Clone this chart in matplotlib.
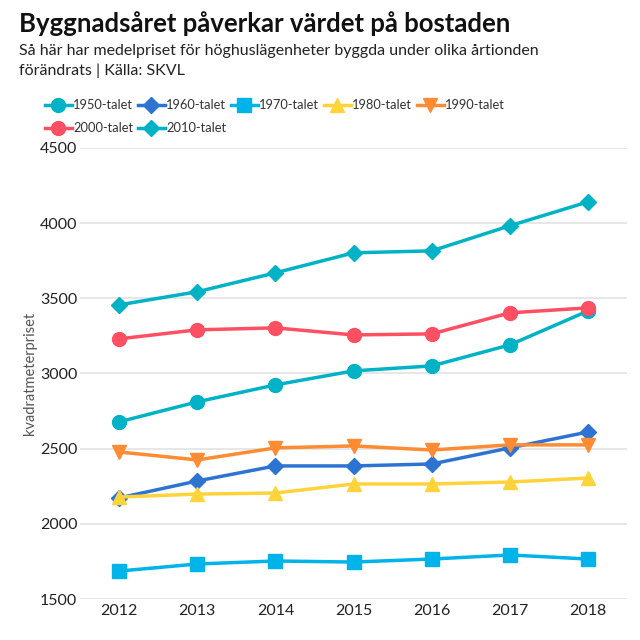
import matplotlib.pyplot as plt

years = [2012, 2013, 2014, 2015, 2016, 2017, 2018]

series_names = ['1950-talet', '1960-talet', '1970-talet', '1980-talet',
                '1990-talet', '2000-talet', '2010-talet']
v1950 = [2678, 2811, 2924, 3017, 3050, 3190, 3416]
v1960 = [2172, 2285, 2385, 2385, 2398, 2505, 2611]
v1970 = [1686, 1733, 1753, 1746, 1766, 1793, 1766]
v1980 = [2178, 2198, 2205, 2265, 2265, 2278, 2305]
v1990 = [2478, 2425, 2505, 2518, 2491, 2525, 2525]
v2000 = [3230, 3290, 3303, 3256, 3263, 3403, 3436]
v2010 = [3456, 3543, 3669, 3802, 3815, 3982, 4141]

colors = ['#00B2C6', '#2D74D2', '#00B3E9', '#FFD43B',
          '#FF8B33', '#FF4F62', '#00B2C6']
markers = ['o', 'D', 's', '^', 'v', 'o', 'D']

plt.rcParams['font.family'] = ['Lato', 'DejaVu Sans']

fig = plt.figure(figsize=(6.4, 6.4), dpi=100)
ax = fig.add_axes([0.125, 0.064, 0.855, 0.705])

all_vals = [v1950, v1960, v1970, v1980, v1990, v2000, v2010]
handles = []
for name, vals, c, m in zip(series_names, all_vals, colors, markers):
    ms = 10 if m in ('o', 's', '^', 'v') else 8
    h, = ax.plot(years, vals, color=c, marker=m, markersize=ms,
                 linewidth=2.5, label=name, clip_on=False)
    handles.append(h)

ax.set_xlim(2011.5, 2018.5)
ax.set_ylim(1500, 4500)
ax.set_yticks([1500, 2000, 2500, 3000, 3500, 4000, 4500])
ax.set_xticks(years)
ax.grid(axis='y', color='#e3e3e3', linewidth=1.2)
ax.set_axisbelow(True)
for s in ax.spines.values():
    s.set_visible(False)
ax.tick_params(length=0, labelsize=11.5, colors='#222222')
ax.tick_params(axis='y', pad=2)
ax.set_ylabel('kvadratmeterpriset', fontsize=10.5, color='#555555', labelpad=2)

fig.text(0.03, 0.963, 'Byggnadsåret påverkar värdet på bostaden',
         fontsize=18.5, fontweight='bold', va='center', color='#111111')
fig.text(0.03, 0.921, 'Så här har medelpriset för höghuslägenheter byggda under olika årtionden',
         fontsize=11.5, va='center', color='#222222')
fig.text(0.03, 0.889, 'förändrats | Källa: SKVL',
         fontsize=11.5, va='center', color='#222222')

# legend fills column by column, so order handles to read row by row
order = [0, 5, 1, 6, 2, 3, 4]
leg = fig.legend(handles=[handles[i] for i in order], loc='upper left',
                 bbox_to_anchor=(0.07, 0.845), ncol=5, frameon=False,
                 fontsize=9.3, handlelength=2.1, handletextpad=0.1,
                 columnspacing=0.35, labelspacing=0.85, borderaxespad=0,
                 borderpad=0)
for t in leg.get_texts():
    t.set_color('#333333')

fig.savefig('out.png', dpi=100)
